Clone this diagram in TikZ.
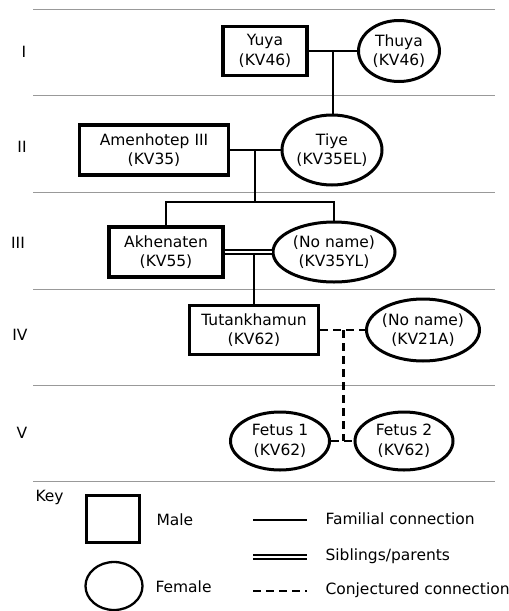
\documentclass[tikz,border=0pt]{standalone}
\usepackage{fontspec}
\setmainfont{DejaVu Sans}
\usetikzlibrary{shapes.geometric,positioning}

\tikzset{
  male/.style={draw, line width=3.3pt, inner sep=0pt, align=center},
  female/.style={draw, ellipse, line width=3pt, inner sep=0pt},
  link/.style={line width=2.3pt},
  sibs/.style={double, double distance=2.2pt, line width=1.8pt},
  guess/.style={line width=2.3pt, dash pattern=on 8pt off 5pt},
  gen/.style={gray!80, line width=0.9pt},
  keytxt/.style={anchor=west}
}

\begin{document}
\begin{tikzpicture}[x=1pt, y=-1pt, font=\fontsize{15.5}{19.5}\selectfont]
    \useasboundingbox (0,0) rectangle (509,611);
    % generation rows
    \draw [gen] (33,9) -- (495,9);
    \draw [gen] (33,95) -- (495,95);
    \draw [gen] (33,192) -- (495,192);
    \draw [gen] (33,289) -- (495,289);
    \draw [gen] (33,385) -- (495,385);
    \draw [gen] (33,481) -- (495,481);
    \node (g1) at (24,52) {I};
    \node (g2) at (22,147) {II};
    \node (g3) at (18,243) {III};
    \node (g4) at (20,335) {IV};
    \node (g5) at (22,433) {V};

    % people
    \node [male, minimum width=84, minimum height=49] (yuya) at (265,51) {Yuya\\(KV46)};
    \node [female, minimum width=81, minimum height=61, label={[align=center]center:Thuya\\(KV46)}] (thuya) at (399,51) {};
    \node [male, minimum width=149, minimum height=50] (amen) at (154,150) {Amenhotep III\\(KV35)};
    \node [female, minimum width=100, minimum height=70, label={[align=center]center:Tiye\\(KV35EL)}] (tiye) at (332,150) {};
    \node [male, minimum width=114, minimum height=50] (akh) at (166,252) {Akhenaten\\(KV55)};
    \node [female, minimum width=122, minimum height=60, label={[align=center]center:(No name)\\(KV35YL)}] (yl) at (334,252) {};
    \node [male, minimum width=129, minimum height=49] (tut) at (254,330) {Tutankhamun\\(KV62)};
    \node [female, minimum width=113, minimum height=62, label={[align=center]center:(No name)\\(KV21A)}] (kv21a) at (423,330) {};
    \node [female, minimum width=99, minimum height=58, label={[align=center]center:Fetus 1\\(KV62)}] (fet1) at (280,441) {};
    \node [female, minimum width=98, minimum height=58, label={[align=center]center:Fetus 2\\(KV62)}] (fet2) at (404,441) {};

    % connections
    \draw [link] (yuya) -- coordinate[midway] (yt) (thuya);
    \draw [link] (yt) -- (yt |- tiye.north);
    \draw [link] (amen) -- coordinate[midway] (at) (tiye);
    \coordinate (kids) at (at |- 0,202);
    \draw [link] (at) -- (kids);
    \draw [link] (akh.north) |- (kids) -| (yl.north);
    \draw [sibs] (akh) -- (yl);
    \draw [link] (tut.north |- 0,255) -- (tut.north);
    \draw [guess] (tut) -- coordinate[pos=0.52] (tk) (kv21a);
    \draw [guess] (tk) -- (tk |- fet1.east);
    \draw [guess] (fet1) -- (fet2);

    % key
    \node [keytxt] (key) at (32,497) {Key};
    \node [draw, line width=2.3pt, minimum width=53, minimum height=47] (kmale) at (113,519) {};
    \node [keytxt] (tmale) at (153,520) {Male};
    \node [draw, ellipse, line width=2.3pt, minimum width=57, minimum height=48, inner sep=0pt] (kfem) at (114,586) {};
    \node [keytxt] (tfem) at (152,587) {Female};
    \coordinate (s1) at (253,520);
    \coordinate (e1) at (307,520);
    \coordinate (s2) at (253,557);
    \coordinate (e2) at (307,557);
    \coordinate (s3) at (253,591);
    \coordinate (e3) at (307,591);
    \draw [link] (s1) -- (e1);
    \draw [sibs] (s2) -- (e2);
    \draw [guess] (s3) -- (e3);
    \node [keytxt] (tfam) at (322,519) {Familial connection};
    \node [keytxt] (tsib) at (322,556) {Siblings/parents};
    \node [keytxt] (tcon) at (322,590) {Conjectured connection};
\end{tikzpicture}
\end{document}
